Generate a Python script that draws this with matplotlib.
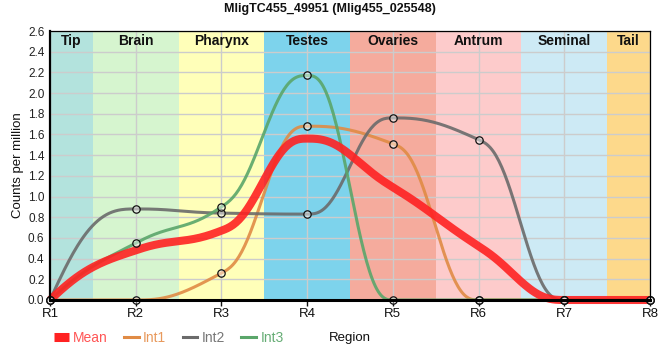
import numpy as np
import matplotlib

matplotlib.use("Agg")
import matplotlib.pyplot as plt
from matplotlib.lines import Line2D

plt.rcParams["font.family"] = ["Liberation Sans", "DejaVu Sans"]

# data
REGIONS = ["R1", "R2", "R3", "R4", "R5", "R6", "R7", "R8"]
BAND_NAMES = ["Tip", "Brain", "Pharynx", "Testes", "Ovaries", "Antrum", "Seminal", "Tail"]
BAND_EDGES = [1, 1.5, 2.5, 3.5, 4.5, 5.5, 6.5, 7.5, 8]
MEAN = [0, 0.48, 0.67, 1.56, 1.09, 0.52, 0, 0]
INT1 = [0, 0, 0.26, 1.68, 1.51, 0, 0, 0]
INT2 = [0, 0.88, 0.84, 0.83, 1.76, 1.55, 0, 0]
INT3 = [0, 0.55, 0.90, 2.17, 0, 0, 0, 0]

BAND_COLORS = ["#b3e3dd", "#d6f5cf", "#ffffb9", "#7dd3ec",
               "#f5ab9d", "#fdcbcb", "#cdeaf5", "#fdd98b"]
COLOR_MEAN = "#ff2222"
COLOR_INT1 = "#e08b45"
COLOR_INT2 = "#6b6b6b"
COLOR_INT3 = "#5aa66a"
COLOR_GRID = "#cccccc"


def smooth_curve(xs, ys, n=60):
    """monotone-ish quintic hermite through the points (line shape only)."""
    x = np.asarray(xs, float)
    y = np.asarray(ys, float)
    h = np.diff(x)
    d = np.diff(y) / h
    m = np.zeros_like(y)
    for i in range(1, len(y) - 1):
        if d[i - 1] * d[i] > 0:
            m[i] = 2 / (1 / d[i - 1] + 1 / d[i])
    for i, a, b in ((0, d[0], d[1]), (len(y) - 1, d[-1], d[-2])):
        t = 2 * a - b
        if a == 0 or t * a <= 0:
            t = 0.0
        elif abs(t) > 3 * abs(a):
            t = 3 * a
        m[i] = t
    out_x, out_y = [], []
    tt = np.linspace(0, 1, n)
    h0 = 1 - 10 * tt**3 + 15 * tt**4 - 6 * tt**5
    h1 = tt - 6 * tt**3 + 8 * tt**4 - 3 * tt**5
    h2 = -4 * tt**3 + 7 * tt**4 - 3 * tt**5
    h3 = 10 * tt**3 - 15 * tt**4 + 6 * tt**5
    for i in range(len(y) - 1):
        seg = y[i] * h0 + h[i] * m[i] * h1 + h[i] * m[i + 1] * h2 + y[i + 1] * h3
        out_x.append(x[i] + h[i] * tt)
        out_y.append(seg)
    return np.concatenate(out_x), np.concatenate(out_y)


xpos = np.arange(1, len(REGIONS) + 1)

fig = plt.figure(figsize=(6.6, 3.6), dpi=100)
ax = fig.add_axes([50 / 660, 1 - 300 / 360, 600 / 660, 269 / 360])

for name, color, x0, x1 in zip(BAND_NAMES, BAND_COLORS, BAND_EDGES[:-1], BAND_EDGES[1:]):
    ax.axvspan(x0, x1, color=color, lw=0, zorder=0)
    ax.text((x0 + x1) / 2, 1 - 10 / 269, name, transform=ax.get_xaxis_transform(),
            ha="center", va="center", fontsize=10, fontweight="bold", color="#111111", zorder=6)

ax.set_xlim(1, 8)
ax.set_ylim(0, 2.6)
ax.set_yticks(np.arange(0, 2.61, 0.2))
ax.set_yticklabels([f"{v:.1f}" for v in np.arange(0, 2.61, 0.2)])
ax.set_xticks(xpos)
ax.set_xticklabels(REGIONS)
ax.grid(True, color=COLOR_GRID, lw=1, zorder=1)
ax.set_axisbelow(False)
for gl in ax.get_xgridlines() + ax.get_ygridlines():
    gl.set_zorder(1)

series = [
    ("Int1", INT1, COLOR_INT1),
    ("Int2", INT2, COLOR_INT2),
    ("Int3", INT3, COLOR_INT3),
]
for label, vals, color in series:
    sx, sy = smooth_curve(xpos, vals)
    ax.plot(sx, sy, color=color, lw=2.2, alpha=0.9, zorder=3, clip_on=False,
            solid_capstyle="round")

mx, my = smooth_curve(xpos, MEAN)
ax.plot(mx, my, color=COLOR_MEAN, lw=5.8, alpha=0.9, zorder=4, clip_on=False,
        solid_capstyle="butt")

for label, vals, color in series:
    ax.plot(xpos, vals, ls="none", marker="o", ms=5.3, mew=0.9, mec="#111111",
            mfc=(1, 1, 1, 0.45), zorder=7, clip_on=False)

ax.tick_params(axis="y", length=0, pad=4, labelsize=8.5, colors="#222222")
ax.tick_params(axis="x", length=4, width=1, pad=2, labelsize=9.5, colors="#111111")
for side in ("top", "right"):
    ax.spines[side].set_linewidth(0.9)
ax.spines["left"].set_linewidth(1.6)
ax.spines["bottom"].set_linewidth(2.2)
for sp in ax.spines.values():
    sp.set_color("#000000")
    sp.set_zorder(8)

ax.set_xlabel("Region", fontsize=9.5, color="#111111", va="center")
ax.xaxis.set_label_coords(0.5, -(338 - 300) / 269)
ax.set_ylabel("Counts per million", fontsize=9.5, color="#111111", va="center")
ax.yaxis.set_label_coords(-(50 - 18) / 600, 0.5)

fig.text(0.5, 1 - 9 / 360, "MligTC455_49951 (Mlig455_025548)", ha="center", va="center",
         fontsize=9, fontweight="bold", color="#111111")

handles = [
    Line2D([], [], color=COLOR_MEAN, lw=6.5, solid_capstyle="butt"),
    Line2D([], [], color=COLOR_INT1, lw=2.2),
    Line2D([], [], color=COLOR_INT2, lw=2.2),
    Line2D([], [], color=COLOR_INT3, lw=2.2),
]
labels = ["Mean", "Int1", "Int2", "Int3"]
text_colors = ["#ff5555", "#e8995c", "#777777", "#66ad75"]
leg = fig.legend(handles, labels, loc="center left", bbox_to_anchor=(54 / 660, 1 - 338 / 360),
                 ncol=4, frameon=False, fontsize=10, handlelength=1.05, handletextpad=0.3,
                 columnspacing=1.2, borderaxespad=0, borderpad=0)
for txt, c in zip(leg.get_texts(), text_colors):
    txt.set_color(c)

fig.savefig("out.png", dpi=100)
